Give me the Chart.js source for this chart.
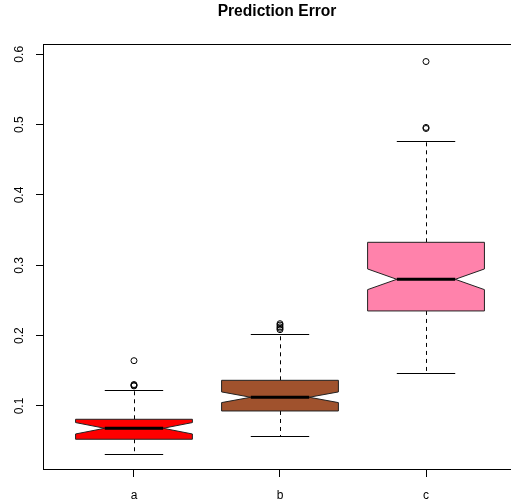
<!DOCTYPE html>
<html>
<head>
<meta charset="utf-8">
<script src="https://cdn.jsdelivr.net/npm/chart.js@4"></script>
<style>
  html, body { margin: 0; padding: 0; background: #fff; overflow: hidden; }
  #wrap { width: 511px; height: 499px; }
</style>
</head>
<body>
<div id="wrap"><canvas id="c" width="511" height="499"></canvas></div>
<script>
// ---- data ----
const categories = ['a', 'b', 'c'];
const lowerWhisker = [0.0322, 0.0573, 0.1465];
const q1 = [0.0527, 0.0929, 0.2351];
const median = [0.0683, 0.1124, 0.2801];
const q3 = [0.0811, 0.1365, 0.3327];
const upperWhisker = [0.1232, 0.2024, 0.4765];
const notchHalf = [0.0081, 0.0076, 0.0147];
const outliersA = [0.1285, 0.1295, 0.1305, 0.1644];
const outliersB = [0.2085, 0.2105, 0.2125, 0.2150, 0.2170];
const outliersC = [0.4945, 0.4960, 0.5897];
const boxColors = ['#FF0000', '#A0522D', '#FF82AB'];
const yTicks = [0.1, 0.2, 0.3, 0.4, 0.5, 0.6];
const xTicks = [1, 2, 3];
const titleText = 'Prediction Error';

const FONT = '"Liberation Sans", Arial, Helvetica, sans-serif';
const outlierSets = [outliersA, outliersB, outliersC];
const outlierPoints = [];
outlierSets.forEach((arr, i) => arr.forEach(v => outlierPoints.push({ x: i + 1, y: v })));

const boxPlugin = {
  id: 'notchedBoxes',
  beforeDatasetsDraw(chart) {
    const ctx = chart.ctx;
    const xs = chart.scales.x, ys = chart.scales.y;
    ctx.save();
    for (let i = 0; i < categories.length; i++) {
      const pos = i + 1;
      const cx = xs.getPixelForValue(pos);
      const half = xs.getPixelForValue(pos + 0.4) - cx;
      const yQ1 = ys.getPixelForValue(q1[i]);
      const yQ3 = ys.getPixelForValue(q3[i]);
      const yMed = ys.getPixelForValue(median[i]);
      const yNLo = ys.getPixelForValue(median[i] - notchHalf[i]);
      const yNHi = ys.getPixelForValue(median[i] + notchHalf[i]);
      const yLo = ys.getPixelForValue(lowerWhisker[i]);
      const yHi = ys.getPixelForValue(upperWhisker[i]);
      const lx = Math.round(cx) + 0.5;

      // whiskers (dashed)
      ctx.strokeStyle = '#000';
      ctx.lineWidth = 1;
      ctx.setLineDash([4, 4]);
      ctx.beginPath();
      ctx.moveTo(lx, yQ3);
      ctx.lineTo(lx, yHi);
      ctx.moveTo(lx, yQ1);
      ctx.lineTo(lx, yLo);
      ctx.stroke();
      ctx.setLineDash([]);
      // staples
      ctx.beginPath();
      ctx.moveTo(cx - half / 2, Math.round(yHi) + 0.5);
      ctx.lineTo(cx + half / 2, Math.round(yHi) + 0.5);
      ctx.moveTo(cx - half / 2, Math.round(yLo) + 0.5);
      ctx.lineTo(cx + half / 2, Math.round(yLo) + 0.5);
      ctx.stroke();

      // notched box
      ctx.beginPath();
      ctx.moveTo(cx - half, yQ3);
      ctx.lineTo(cx - half, yNHi);
      ctx.lineTo(cx - half / 2, yMed);
      ctx.lineTo(cx - half, yNLo);
      ctx.lineTo(cx - half, yQ1);
      ctx.lineTo(cx + half, yQ1);
      ctx.lineTo(cx + half, yNLo);
      ctx.lineTo(cx + half / 2, yMed);
      ctx.lineTo(cx + half, yNHi);
      ctx.lineTo(cx + half, yQ3);
      ctx.closePath();
      ctx.fillStyle = boxColors[i];
      ctx.fill();
      ctx.strokeStyle = '#222';
      ctx.lineWidth = 1;
      ctx.stroke();

      // median
      ctx.beginPath();
      ctx.strokeStyle = '#000';
      ctx.lineWidth = 3;
      ctx.moveTo(cx - half / 2, yMed);
      ctx.lineTo(cx + half / 2, yMed);
      ctx.stroke();
    }
    ctx.restore();
  },
  afterDraw(chart) {
    const ctx = chart.ctx;
    const a = chart.chartArea;
    ctx.save();
    ctx.strokeStyle = '#000';
    ctx.lineWidth = 1;
    ctx.beginPath();
    ctx.moveTo(a.left, Math.round(a.top) + 0.5);
    ctx.lineTo(a.right, Math.round(a.top) + 0.5);
    ctx.stroke();
    ctx.restore();
  }
};

new Chart(document.getElementById('c'), {
  type: 'scatter',
  data: {
    datasets: [{
      label: 'outliers',
      data: outlierPoints,
      pointStyle: 'circle',
      pointRadius: 3,
      pointHoverRadius: 3,
      borderColor: '#000',
      backgroundColor: 'rgba(0,0,0,0)',
      borderWidth: 1,
      clip: false
    }]
  },
  options: {
    responsive: false,
    animation: false,
    events: [],
    layout: { padding: 0, autoPadding: false },
    plugins: {
      legend: { display: false },
      tooltip: { enabled: false },
      title: {
        display: true,
        text: titleText,
        fullSize: false,
        color: '#000',
        font: { family: FONT, size: 15.6, weight: 'bold', lineHeight: 1.2 },
        padding: { top: 2, bottom: 23.3 }
      }
    },
    scales: {
      x: {
        type: 'linear',
        min: 0.377,
        max: 3.582,
        afterBuildTicks: s => { s.ticks = xTicks.map(v => ({ value: v })); },
        afterFit: s => { s.height = 30; s.paddingLeft = 0; s.paddingRight = 0; },
        grid: { display: true, drawOnChartArea: false, drawTicks: true, tickLength: 8, tickColor: '#000' },
        border: { display: true, color: '#000', width: 1 },
        ticks: {
          color: '#000',
          padding: 11,
          maxRotation: 0,
          font: { family: FONT, size: 12 },
          callback: v => categories[v - 1]
        }
      },
      y: {
        type: 'linear',
        min: 0.0104,
        max: 0.6146,
        afterBuildTicks: s => { s.ticks = yTicks.map(v => ({ value: v })); },
        afterFit: s => { s.width = 43; s.paddingTop = 0; s.paddingBottom = 0; },
        grid: { display: true, drawOnChartArea: false, drawTicks: true, tickLength: 7, tickColor: '#000' },
        border: { display: true, color: '#000', width: 1 },
        ticks: {
          color: '#000',
          padding: 8,
          minRotation: 90,
          maxRotation: 90,
          crossAlign: 'center',
          font: { family: FONT, size: 12 },
          callback: v => v.toFixed(1)
        }
      }
    }
  },
  plugins: [boxPlugin]
});
</script>
</body>
</html>
